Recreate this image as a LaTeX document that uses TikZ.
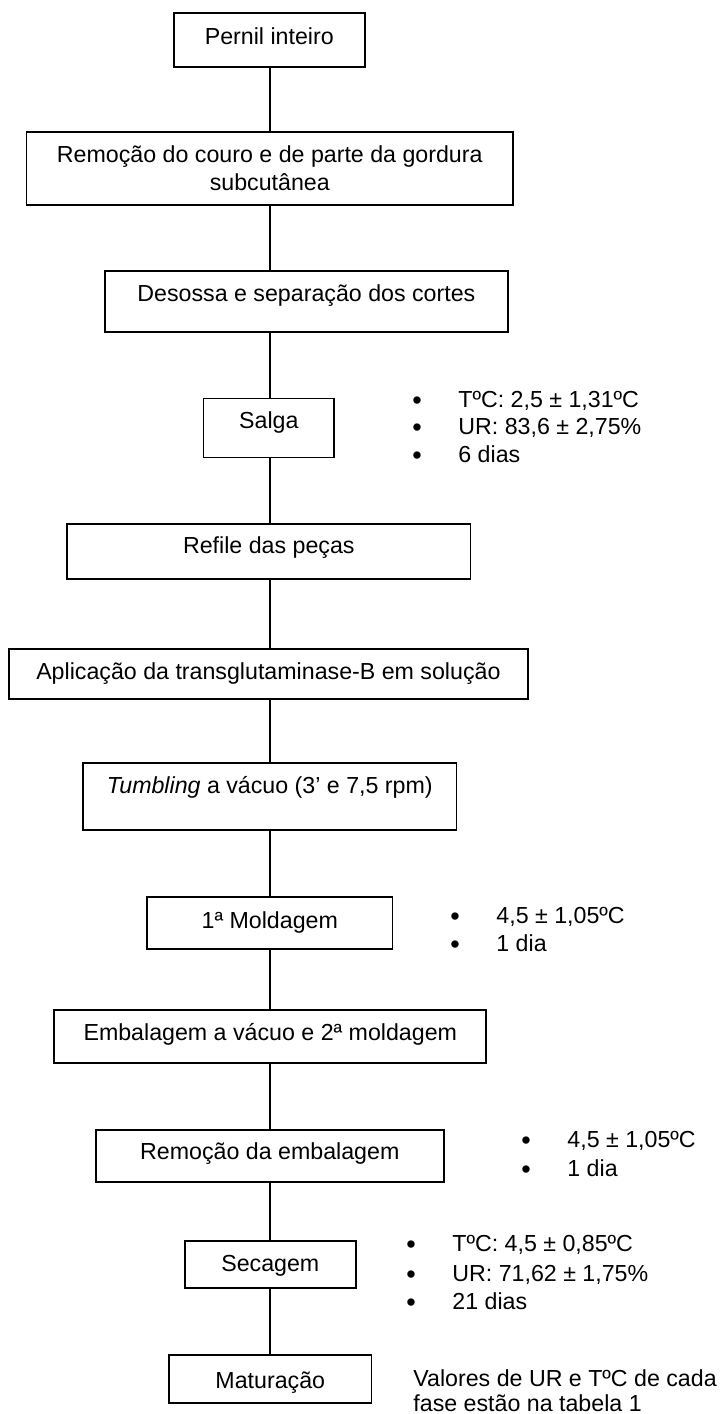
\documentclass[tikz,border=0pt]{standalone}
\usepackage{fontspec}
\setmainfont{Liberation Sans}
\newcommand\flowfont{\fontsize{11.6}{13.85}\selectfont}
\newcommand\dotfont{\fontsize{13.5}{13.85}\selectfont}

\tikzset{
  stepbox/.style={draw, line width=0.85pt, inner sep=0pt, anchor=north, font=\flowfont},
  link/.style={line width=0.6pt},
  note/.style={anchor=base west, inner sep=0pt, font=\flowfont},
  dot/.style={anchor=base, inner sep=0pt, font=\dotfont},
}

\begin{document}
\begin{tikzpicture}[x=0.5pt,y=-0.5pt]
\useasboundingbox (0,0) rectangle (726,1414);

% process steps (top edge, width, baseline via text height/depth)
\node[stepbox, minimum width=95.4pt, text height=16pt, text depth=11pt] (pernil) at (269.3,12) {Pernil inteiro};
\node[stepbox, anchor=center, minimum width=243.2pt, minimum height=36.5pt, align=center] (couro) at (269.8,168.5)
  {Remoção do couro e de parte da gordura\\subcutânea};
\node[stepbox, minimum width=201.6pt, text height=15.5pt, text depth=15pt] (desossa) at (306.4,270) {Desossa e separação dos cortes};
\node[stepbox, minimum width=65.2pt, text height=15pt, text depth=14.5pt] (salga) at (268.8,397.5) {Salga};
\node[stepbox, minimum width=201.6pt, text height=15pt, text depth=12.5pt] (refile) at (268.8,523) {Refile das peças};
\node[stepbox, minimum width=259.5pt, text height=15.5pt, text depth=9.5pt] (aplic) at (268.4,648) {Aplicação da transglutaminase-B em solução};
\node[stepbox, minimum width=186.8pt, text height=15.5pt, text depth=18pt] (tumbling) at (269.8,762) {\textit{Tumbling} a vácuo (3’ e 7,5 rpm)};
\node[stepbox, minimum width=122.6pt, text height=16pt, text depth=10pt] (molde) at (269.8,896) {1ª Moldagem};
\node[stepbox, minimum width=216pt, text height=15.5pt, text depth=11pt] (embal) at (270.3,1009) {Embalagem a vácuo e 2ª moldagem};
\node[stepbox, minimum width=174pt, text height=15pt, text depth=11pt] (rememb) at (269.8,1129) {Remoção da embalagem};
\node[stepbox, minimum width=85.5pt, text height=15.5pt, text depth=8pt] (secagem) at (270.3,1240) {Secagem};
\node[stepbox, minimum width=101.3pt, text height=17pt, text depth=7pt] (matur) at (270.3,1354) {Maturação};

% vertical flow line
\coordinate (spine) at (270,0);
\draw[link] (pernil.south -| spine) -- (couro.north -| spine);
\draw[link] (couro.south -| spine) -- (desossa.north -| spine);
\draw[link] (desossa.south -| spine) -- (salga.north -| spine);
\draw[link] (salga.south -| spine) -- (refile.north -| spine);
\draw[link] (refile.south -| spine) -- (aplic.north -| spine);
\draw[link] (aplic.south -| spine) -- (tumbling.north -| spine);
\draw[link] (tumbling.south -| spine) -- (molde.north -| spine);
\draw[link] (molde.south -| spine) -- (embal.north -| spine);
\draw[link] (embal.south -| spine) -- (rememb.north -| spine);
\draw[link] (rememb.south -| spine) -- (secagem.north -| spine);
\draw[link] (secagem.south -| spine) -- (matur.north -| spine);

% conditions of the salting step
\node[dot] (sa1) at (417,409) {•};
\node[dot] (sa2) at (417,436) {•};
\node[dot] (sa3) at (417,464) {•};
\node[note] (st1) at (458,407) {TºC: 2,5 ± 1,31ºC};
\node[note] (st2) at (458,434) {UR: 83,6 ± 2,75\%};
\node[note] (st3) at (458,462) {6 dias};

% conditions of the first moulding
\node[dot] (mo1) at (455,925) {•};
\node[dot] (mo2) at (455,953) {•};
\node[note] (mt1) at (496,923) {4,5 ± 1,05ºC};
\node[note] (mt2) at (496,951) {1 dia};

% conditions after unpacking
\node[dot] (re1) at (526,1149) {•};
\node[dot] (re2) at (526,1178) {•};
\node[note] (rt1) at (567,1147) {4,5 ± 1,05ºC};
\node[note] (rt2) at (567,1176) {1 dia};

% drying conditions
\node[dot] (se1) at (411,1253) {•};
\node[dot] (se2) at (411,1283) {•};
\node[dot] (se3) at (411,1311) {•};
\node[note] (sc1) at (452,1251) {TºC: 4,5 ± 0,85ºC};
\node[note] (sc2) at (452,1281) {UR: 71,62 ± 1,75\%};
\node[note] (sc3) at (452,1309) {21 dias};

% remark next to ripening
\node[note] (val1) at (413,1386) {Valores de UR e TºC de cada};
\node[note] (val2) at (413,1411) {fase estão na tabela 1};
\end{tikzpicture}
\end{document}
